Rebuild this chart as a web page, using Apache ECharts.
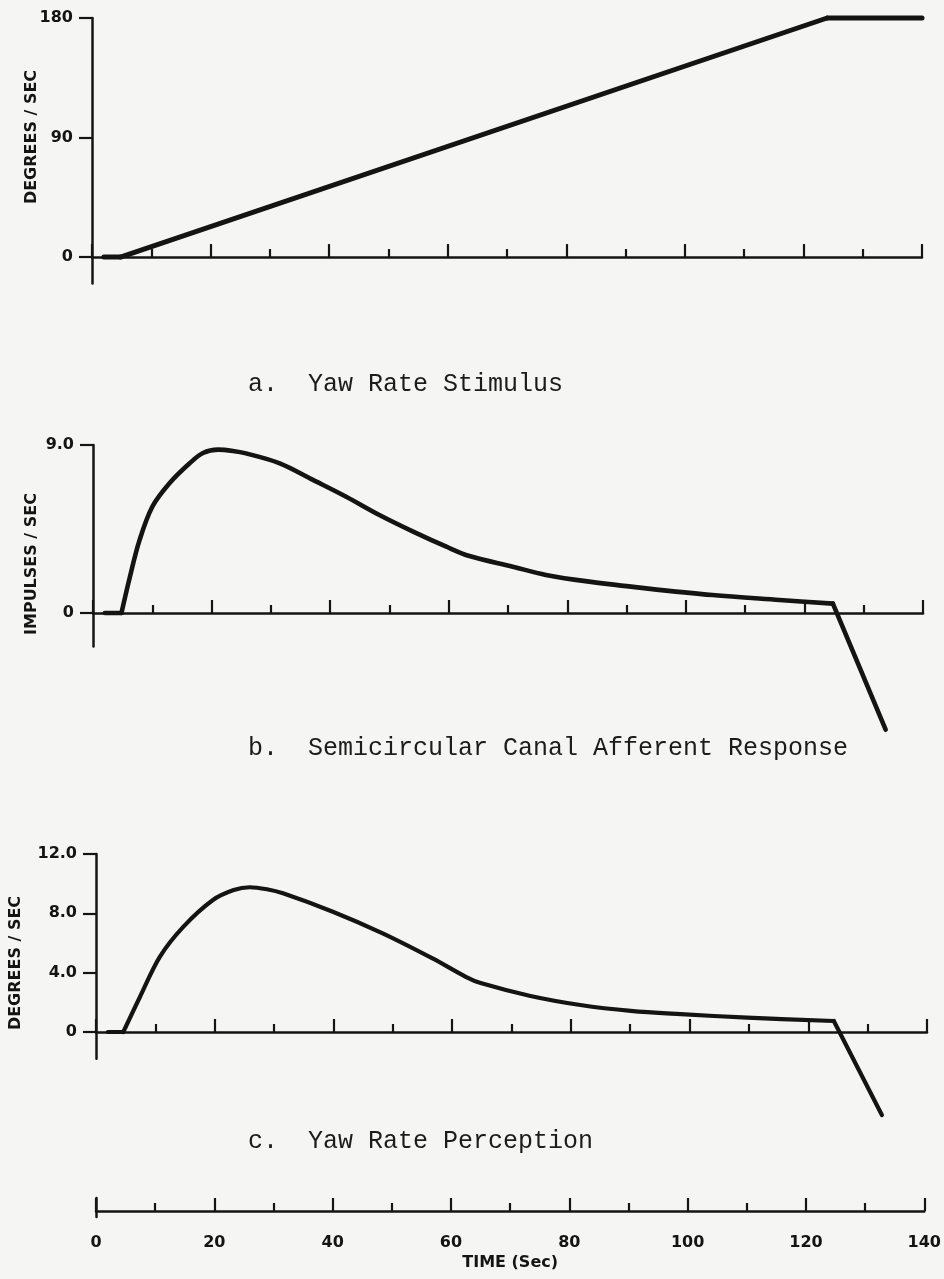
<!DOCTYPE html>
<html>
<head>
<meta charset="utf-8">
<script src="https://cdn.jsdelivr.net/npm/echarts@6/dist/echarts.min.js"></script>
<style>
html,body{margin:0;padding:0;background:#f5f5f3;}
#chart{width:944px;height:1279px;}
</style>
</head>
<body>
<div id="chart"></div>
<script>
// ---- data ----
const timeTicks = [0, 20, 40, 60, 80, 100, 120, 140];

// a. Yaw Rate Stimulus (deg/sec): flat, linear ramp, flat
const stimTime = [2, 4.8, 124, 140];
const stimRate = [0, 0, 180, 180];
const stimCorners = [1, 2];
const stimYTicks = [0, 90, 180];

// b. Semicircular Canal Afferent Response (impulses/sec)
const affTime = [2, 4.8, 6.2, 7.8, 10, 12.9, 16.3, 18.55, 21.1, 23.6, 25.8, 31.5, 37.1, 42.7, 48.3, 54, 59.6, 63.5, 70.8, 76.4, 83.7, 93.3, 104.5, 115.8, 124.8, 133.7];
const affRate = [0, 0, 1.9, 3.85, 5.69, 6.95, 8.02, 8.57, 8.75, 8.68, 8.55, 8.02, 7.13, 6.23, 5.25, 4.36, 3.55, 3.05, 2.48, 2.04, 1.68, 1.32, 0.96, 0.70, 0.50, -6.25];
const affCorners = [1, 24];
const affYTicks = [0, 9];

// c. Yaw Rate Perception (deg/sec)
const percTime = [2, 4.6, 7.4, 10.75, 14.7, 19.7, 23.2, 25.9, 28.8, 31.5, 39.9, 48.3, 56.7, 62.3, 64.8, 73.2, 81.6, 90.1, 98.5, 109.7, 124.3, 132.4];
const percRate = [0, 0, 2.36, 5.07, 7.09, 8.9, 9.57, 9.76, 9.62, 9.35, 8.11, 6.65, 4.96, 3.72, 3.3, 2.43, 1.82, 1.42, 1.2, 0.97, 0.74, -5.6];
const percCorners = [1, 20];
const percYTicks = [0, 4, 8, 12];

const captions = ['a.  Yaw Rate Stimulus', 'b.  Semicircular Canal Afferent Response', 'c.  Yaw Rate Perception'];
const yNames = ['DEGREES / SEC', 'IMPULSES / SEC', 'DEGREES / SEC'];
const xName = 'TIME (Sec)';

// ---- styling ----
const INK = '#141414';
const labelFont = {color: INK, fontFamily: 'DejaVu Sans', fontWeight: 'bold', fontSize: 16};

function segs(t, v, corners, idx, width) {
  const pts = t.map((x, i) => [x, v[i]]);
  const cuts = [0].concat(corners || [], [t.length - 1]);
  const out = [];
  for (let k = 0; k < cuts.length - 1; k++) {
    const part = pts.slice(cuts[k], cuts[k + 1] + 1);
    out.push({
      type: 'line', xAxisIndex: idx, yAxisIndex: idx, data: part,
      smooth: part.length > 2 ? 0.34 : false, symbol: 'none', clip: false, silent: true,
      lineStyle: {color: INK, width: width, cap: 'round', join: 'round'}
    });
  }
  return out;
}

function panelX(idx, showLabels) {
  return {
    type: 'value', gridIndex: idx, min: 0, max: 140, interval: 20,
    axisLine: {show: true, onZero: true, lineStyle: {color: INK, width: 2.5}},
    axisTick: {show: true, inside: true, length: 13, lineStyle: {color: INK, width: 2.2}},
    minorTick: {show: true, splitNumber: 2, length: 8, lineStyle: {color: INK, width: 2.2}},
    axisLabel: Object.assign({show: showLabels, margin: 18, customValues: timeTicks}, labelFont),
    splitLine: {show: false}, minorSplitLine: {show: false},
    name: showLabels ? xName : '', nameLocation: 'middle', nameGap: 38,
    nameTextStyle: labelFont
  };
}

function panelY(idx, min, max, ticks, fmt) {
  return {
    type: 'value', gridIndex: idx, min: min, max: max,
    axisLine: {show: true, onZero: false, lineStyle: {color: INK, width: 2.5}},
    axisTick: {show: ticks.length > 0, inside: false, length: 13, customValues: ticks, lineStyle: {color: INK, width: 2.2}},
    axisLabel: Object.assign({show: ticks.length > 0, margin: 19, customValues: ticks, formatter: fmt}, labelFont),
    splitLine: {show: false}
  };
}

const fmtInt = v => String(v);
const fmtDec = v => (v === 0 ? '0' : v.toFixed(1));

const chart = echarts.init(document.getElementById('chart'), null, {renderer: 'canvas'});
chart.setOption({
  backgroundColor: '#f5f5f3',
  animation: false,
  grid: [
    {left: 92, top: 18, width: 830, height: 265.6},
    {left: 93, top: 445, width: 830, height: 201.6},
    {left: 96, top: 854, width: 831, height: 204.7},
    {left: 96, top: 1198, width: 830, height: 19}
  ],
  xAxis: [panelX(0, false), panelX(1, false), panelX(2, false), panelX(3, true)],
  yAxis: [
    panelY(0, -20, 180, stimYTicks, fmtInt),
    panelY(1, -1.8, 9, affYTicks, fmtDec),
    panelY(2, -1.8, 12, percYTicks, fmtDec),
    panelY(3, -6, 13, [], fmtInt)
  ],
  title: captions.map((c, i) => ({
    text: c, left: 248, top: [372, 736, 1129][i], padding: 0,
    textStyle: {fontFamily: 'Liberation Mono', fontWeight: 'normal', fontSize: 25, color: '#1c1c1c'}
  })),
  graphic: yNames.map((n, i) => ({
    type: 'text', x: [32, 32, 16][i], y: [137, 564, 963][i], rotation: Math.PI / 2, silent: true,
    style: {text: n, align: 'center', verticalAlign: 'middle', textAlign: 'center', textVerticalAlign: 'middle',
      font: 'bold 16px "DejaVu Sans"', fill: INK}
  })),
  series: [].concat(
    segs(stimTime, stimRate, stimCorners, 0, 5),
    segs(affTime, affRate, affCorners, 1, 4.6),
    segs(percTime, percRate, percCorners, 2, 4.2)
  )
});
</script>
</body>
</html>
